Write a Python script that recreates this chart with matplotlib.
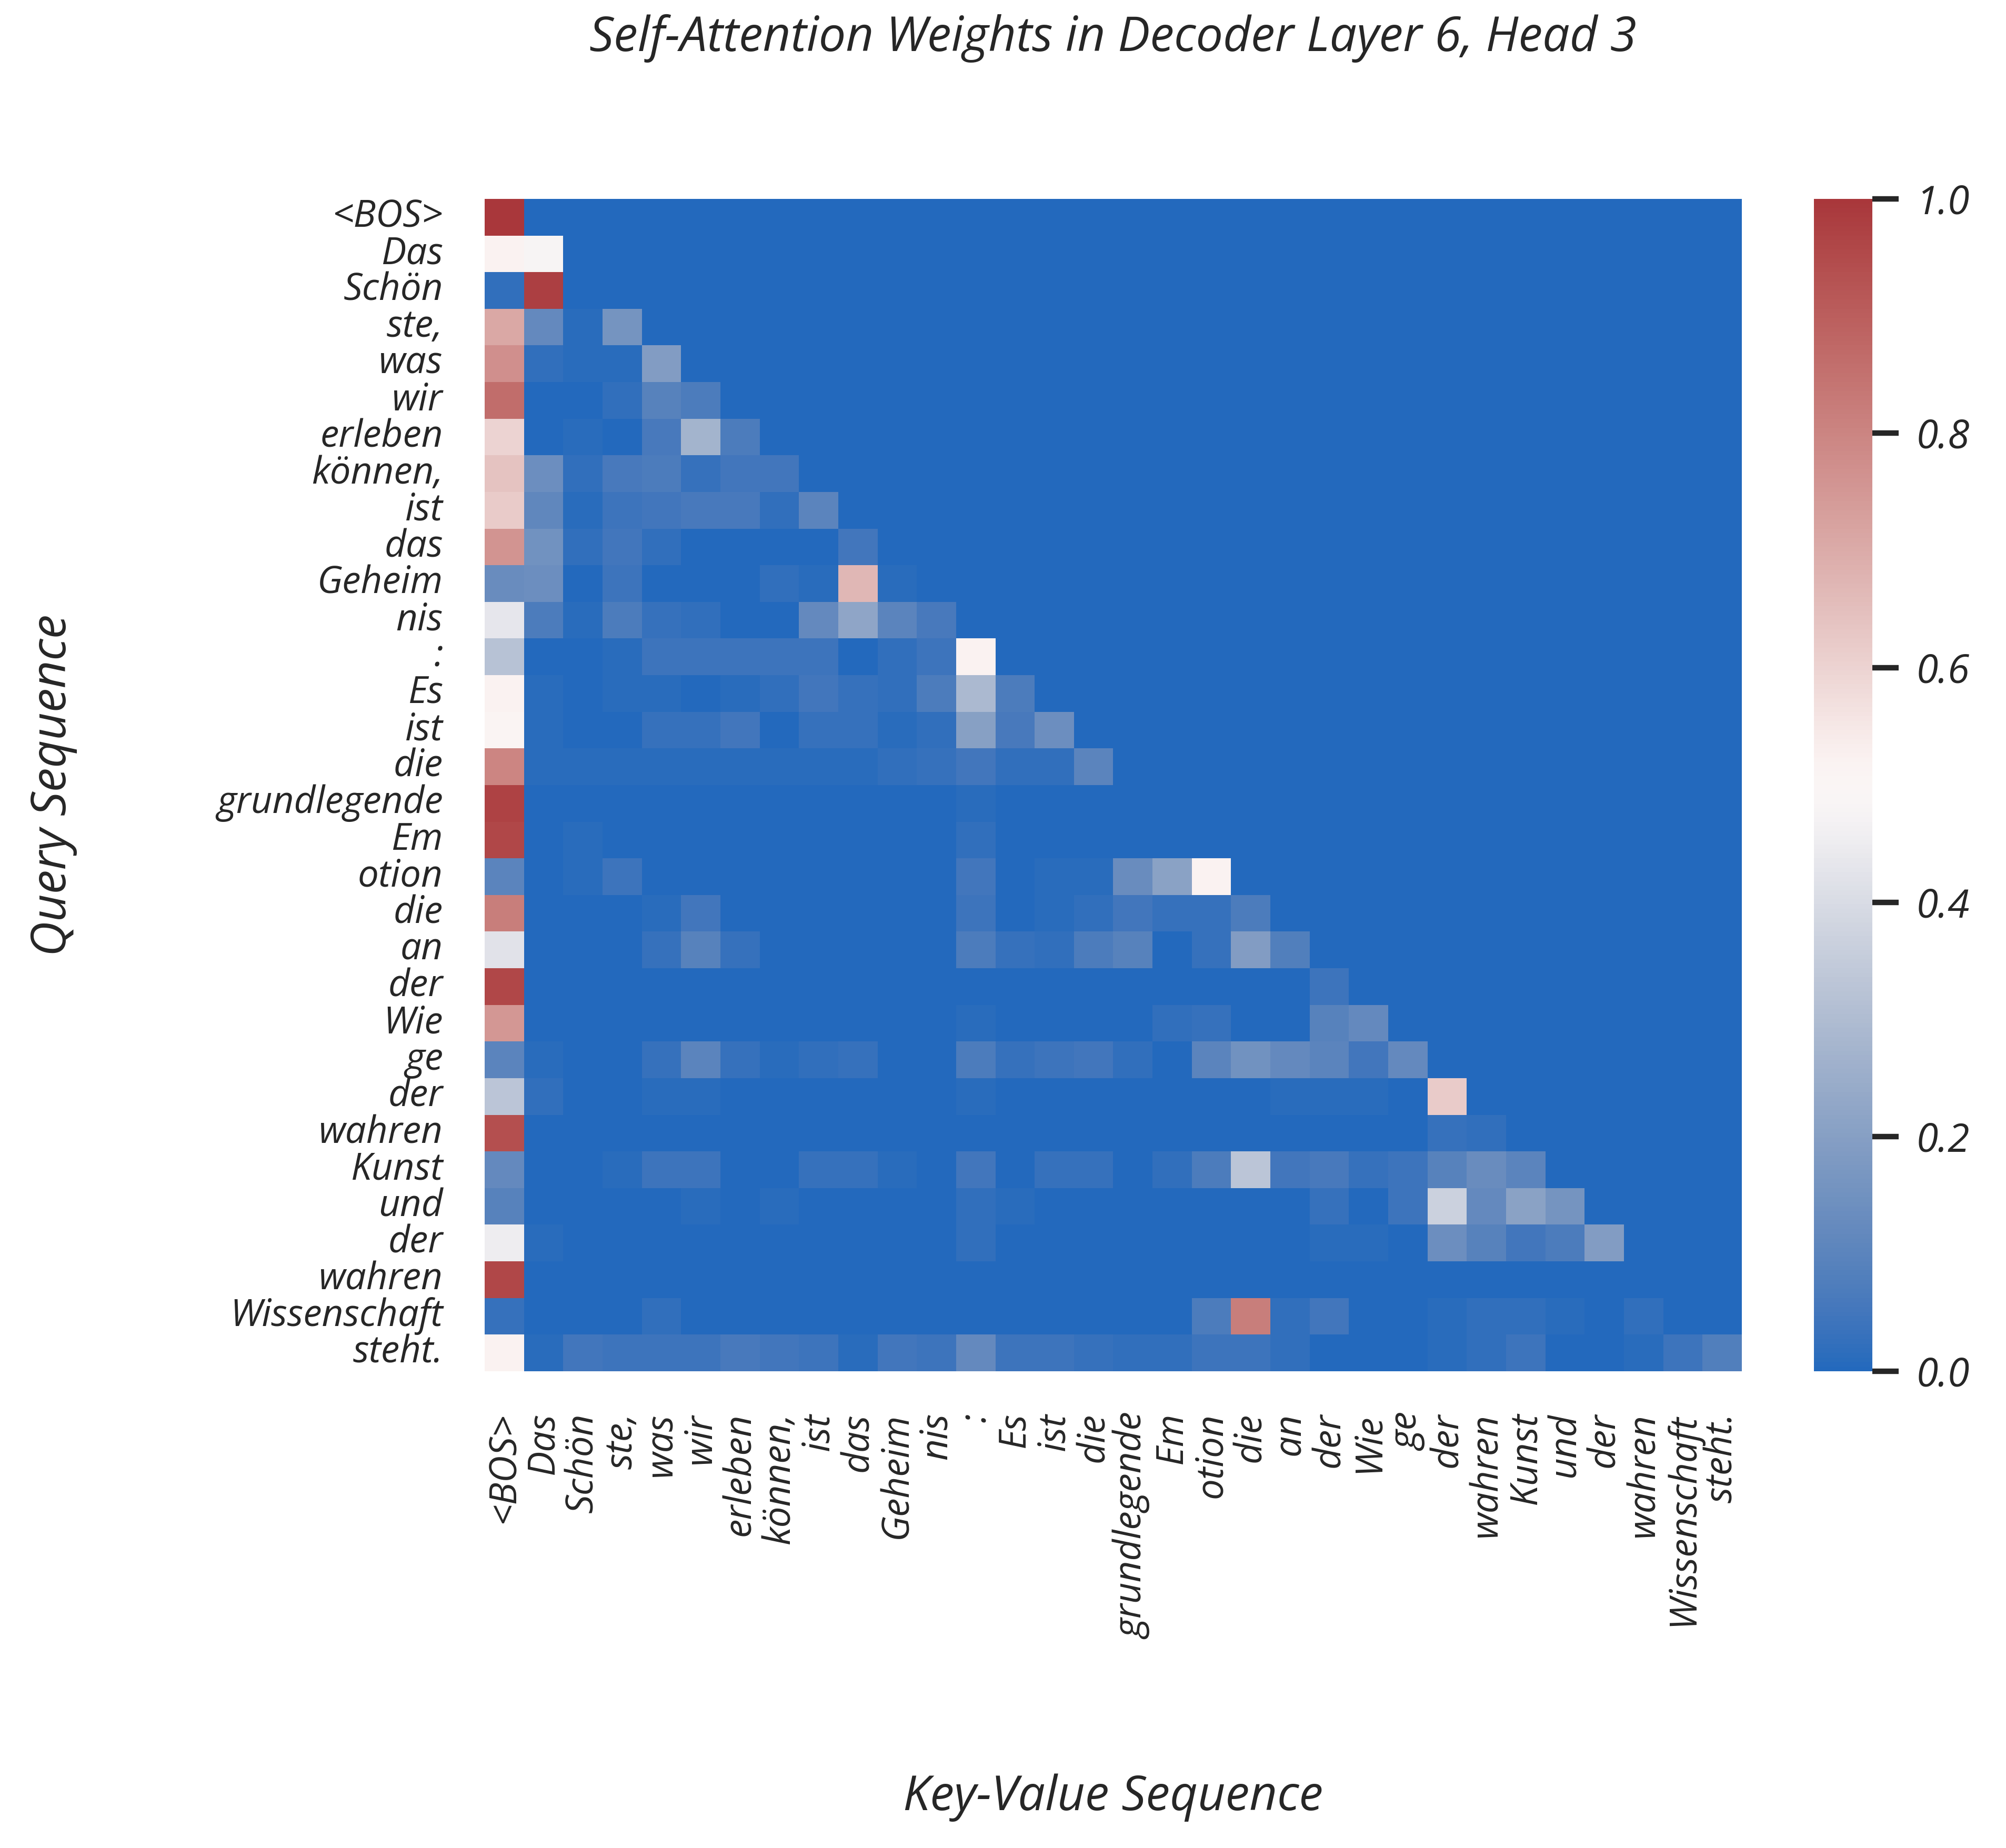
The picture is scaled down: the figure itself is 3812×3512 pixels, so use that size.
import matplotlib
matplotlib.use("Agg")
import numpy as np
import matplotlib.pyplot as plt
import seaborn as sns

# tokens on both axes (decoder self-attention, causal)
tokens = ["<BOS>", "Das", "Schön", "ste,", "was", "wir", "erleben", "können,",
          "ist", "das", "Geheim", "nis", ":", "Es", "ist", "die", "grundlegende",
          "Em", "otion", "die", "an", "der", "Wie", "ge", "der", "wahren", "Kunst",
          "und", "der", "wahren", "Wissenschaft", "steht."]

# attention weights of each query row, up to and including the diagonal
attention_rows = [
    [1.00],
    [0.52, 0.48],
    [0.02, 0.98],
    [0.71, 0.12, 0.01, 0.16],
    [0.77, 0.02, 0.01, 0.01, 0.19],
    [0.86, 0.00, 0.00, 0.02, 0.09, 0.07],
    [0.60, 0.00, 0.01, 0.00, 0.06, 0.27, 0.07],
    [0.64, 0.14, 0.02, 0.06, 0.07, 0.03, 0.05, 0.05],
    [0.62, 0.11, 0.01, 0.04, 0.05, 0.06, 0.06, 0.02, 0.10],
    [0.76, 0.15, 0.02, 0.05, 0.02, 0.00, 0.00, 0.00, 0.00, 0.05],
    [0.13, 0.14, 0.00, 0.04, 0.00, 0.00, 0.00, 0.02, 0.01, 0.67, 0.01],
    [0.43, 0.07, 0.01, 0.07, 0.03, 0.02, 0.00, 0.00, 0.12, 0.22, 0.10, 0.06],
    [0.32, 0.00, 0.00, 0.01, 0.04, 0.04, 0.04, 0.04, 0.04, 0.00, 0.02, 0.04, 0.52],
    [0.52, 0.01, 0.00, 0.01, 0.01, 0.00, 0.01, 0.02, 0.05, 0.03, 0.02, 0.07, 0.29, 0.07],
    [0.51, 0.01, 0.00, 0.00, 0.03, 0.03, 0.05, 0.00, 0.03, 0.03, 0.01, 0.02, 0.20, 0.06,
     0.14],
    [0.80, 0.01, 0.01, 0.01, 0.01, 0.01, 0.01, 0.01, 0.01, 0.01, 0.02, 0.03, 0.05, 0.02,
     0.02, 0.10],
    [0.97, 0.00, 0.00, 0.00, 0.00, 0.00, 0.00, 0.00, 0.00, 0.00, 0.00, 0.00, 0.01, 0.00,
     0.00, 0.00, 0.00],
    [0.96, 0.00, 0.01, 0.00, 0.00, 0.00, 0.00, 0.00, 0.00, 0.00, 0.00, 0.00, 0.02, 0.00,
     0.00, 0.00, 0.00, 0.00],
    [0.10, 0.00, 0.01, 0.04, 0.00, 0.00, 0.00, 0.00, 0.00, 0.00, 0.00, 0.00, 0.05, 0.00,
     0.01, 0.01, 0.13, 0.21, 0.52],
    [0.82, 0.00, 0.00, 0.00, 0.01, 0.05, 0.00, 0.00, 0.00, 0.00, 0.00, 0.00, 0.04, 0.00,
     0.01, 0.02, 0.05, 0.03, 0.03, 0.07],
    [0.42, 0.00, 0.00, 0.00, 0.03, 0.09, 0.03, 0.00, 0.00, 0.00, 0.00, 0.00, 0.07, 0.03,
     0.02, 0.07, 0.09, 0.00, 0.03, 0.19, 0.08],
    [0.96, 0.00, 0.00, 0.00, 0.00, 0.00, 0.00, 0.00, 0.00, 0.00, 0.00, 0.00, 0.00, 0.00,
     0.00, 0.00, 0.00, 0.00, 0.00, 0.00, 0.00, 0.04],
    [0.75, 0.00, 0.00, 0.00, 0.00, 0.00, 0.00, 0.00, 0.00, 0.00, 0.00, 0.00, 0.01, 0.00,
     0.00, 0.00, 0.00, 0.02, 0.03, 0.00, 0.00, 0.09, 0.12],
    [0.10, 0.01, 0.00, 0.00, 0.03, 0.10, 0.03, 0.01, 0.02, 0.03, 0.00, 0.00, 0.07, 0.03,
     0.04, 0.05, 0.02, 0.00, 0.10, 0.15, 0.12, 0.10, 0.05, 0.12],
    [0.33, 0.02, 0.00, 0.00, 0.01, 0.01, 0.00, 0.00, 0.00, 0.00, 0.00, 0.00, 0.01, 0.00,
     0.00, 0.00, 0.00, 0.00, 0.00, 0.00, 0.01, 0.01, 0.01, 0.00, 0.62],
    [0.94, 0.00, 0.00, 0.00, 0.00, 0.00, 0.00, 0.00, 0.00, 0.00, 0.00, 0.00, 0.00, 0.00,
     0.00, 0.00, 0.00, 0.00, 0.00, 0.00, 0.00, 0.00, 0.00, 0.00, 0.03, 0.02],
    [0.12, 0.00, 0.00, 0.01, 0.04, 0.04, 0.00, 0.00, 0.03, 0.03, 0.01, 0.00, 0.05, 0.00,
     0.03, 0.03, 0.00, 0.02, 0.07, 0.33, 0.05, 0.06, 0.03, 0.04, 0.09, 0.13, 0.10],
    [0.09, 0.00, 0.00, 0.00, 0.00, 0.01, 0.00, 0.01, 0.00, 0.00, 0.00, 0.00, 0.02, 0.01,
     0.00, 0.00, 0.00, 0.00, 0.00, 0.00, 0.00, 0.03, 0.00, 0.04, 0.37, 0.12, 0.21, 0.16],
    [0.45, 0.01, 0.00, 0.00, 0.00, 0.00, 0.00, 0.00, 0.00, 0.00, 0.00, 0.00, 0.02, 0.00,
     0.00, 0.00, 0.00, 0.00, 0.00, 0.00, 0.00, 0.01, 0.01, 0.00, 0.14, 0.09, 0.05, 0.07,
     0.19],
    [0.96, 0.00, 0.00, 0.00, 0.00, 0.00, 0.00, 0.00, 0.00, 0.00, 0.00, 0.00, 0.00, 0.00,
     0.00, 0.00, 0.00, 0.00, 0.00, 0.00, 0.00, 0.00, 0.00, 0.00, 0.00, 0.00, 0.00, 0.00,
     0.00, 0.00],
    [0.03, 0.00, 0.00, 0.00, 0.02, 0.00, 0.00, 0.00, 0.00, 0.00, 0.00, 0.00, 0.00, 0.00,
     0.00, 0.00, 0.00, 0.00, 0.07, 0.82, 0.02, 0.05, 0.00, 0.00, 0.01, 0.02, 0.02, 0.01,
     0.00, 0.02, 0.00],
    [0.52, 0.01, 0.05, 0.04, 0.04, 0.04, 0.06, 0.05, 0.04, 0.01, 0.05, 0.04, 0.12, 0.04,
     0.04, 0.03, 0.02, 0.02, 0.04, 0.04, 0.02, 0.00, 0.00, 0.00, 0.01, 0.02, 0.04, 0.00,
     0.00, 0.01, 0.04, 0.08],
]

n = len(tokens)
weights = np.zeros((n, n))
for i, row in enumerate(attention_rows):
    weights[i, :len(row)] = row

sns.set_theme(style="white")
plt.rcParams['font.family'] = ['Open Sans', 'DejaVu Sans']
plt.rcParams['font.style'] = 'italic'

fig = plt.figure(figsize=(3812 / 300, 3512 / 300), dpi=300)
ax = fig.add_axes([0.2416, 0.258, 0.6267, 0.6344])
cax = fig.add_axes([0.9043, 0.258, 0.0291, 0.6344])

cmap = sns.color_palette("vlag", as_cmap=True)
sns.heatmap(weights, ax=ax, cbar_ax=cax, cmap=cmap, vmin=0, vmax=1,
            xticklabels=tokens, yticklabels=tokens)

ax.tick_params(axis='both', length=0, pad=19, labelsize=17, colors='#262626')
ax.set_yticklabels(tokens, rotation=0, fontstyle='italic')
ax.set_xticklabels(tokens, rotation=90, fontstyle='italic')

ax.set_title("Self-Attention Weights in Decoder Layer 6, Head 3", fontsize=22,
             fontstyle='italic', color='#262626', y=1.1257, va='center')
ax.set_xlabel("Key-Value Sequence", fontsize=22, fontstyle='italic', color='#262626')
ax.set_ylabel("Query Sequence", fontsize=22, fontstyle='italic', color='#262626')
ax.xaxis.set_label_coords(0.5, -0.3636)
ax.yaxis.set_label_coords(-0.343, 0.5)
ax.xaxis.label.set_va('center')
ax.yaxis.label.set_va('center')

cax.set_yticks([0.0, 0.2, 0.4, 0.6, 0.8, 1.0])
cax.tick_params(axis='y', right=True, length=12, width=2.5, pad=8, labelsize=18,
                color='#262626', labelcolor='#262626')
for lbl in cax.get_yticklabels():
    lbl.set_fontstyle('italic')

fig.savefig("out.png", dpi=300)
